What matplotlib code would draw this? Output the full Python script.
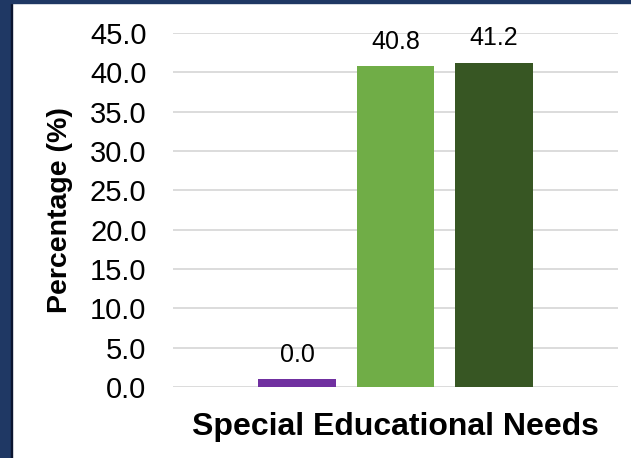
import numpy as np
import matplotlib
matplotlib.use("Agg")
import matplotlib.pyplot as plt
from matplotlib.patches import Rectangle

plt.rcParams['font.family'] = ['Liberation Sans', 'DejaVu Sans']

category = "Special Educational Needs"
values = [0.0, 40.8, 41.2]
colors = ["#7030A0", "#70AD47", "#375623"]
y_ticks = np.arange(0, 45.1, 5)

# zero values still get a thin stub so the bar stays visible
min_visible = 1.0

fig = plt.figure(figsize=(6.31, 4.58), dpi=100)
ax = fig.add_axes([173 / 631, 1 - 387 / 458, 445 / 631, 354 / 458])

x = np.arange(len(values)) - 1
heights = [max(v, min_visible) for v in values]
bars = ax.bar(x, heights, width=0.79, color=colors, zorder=3)

for xi, h, v in zip(x, heights, values):
    ax.annotate(f"{v:.1f}", (xi, h), xytext=(0, 9), textcoords="offset points",
                ha="center", va="bottom", fontsize=18, color="#000000")

ax.set_xlim(-2.26, 2.26)
ax.set_ylim(0, 45)
ax.set_yticks(y_ticks)
ax.set_yticklabels([f"{t:.1f}" for t in y_ticks], fontsize=21)
ax.set_xticks([])
ax.grid(axis="y", color="#D9D9D9", linewidth=1.3, zorder=0)
ax.tick_params(axis="y", length=0, pad=19)
for s in ax.spines.values():
    s.set_visible(False)

ax.set_ylabel("Percentage (%)", fontsize=20.5, fontweight="bold", labelpad=12)
ax.set_xlabel(category, fontsize=23, fontweight="bold", labelpad=18)

# navy frame along the left and top edges
fig.patches.append(Rectangle((0, 0), 11 / 631, 1, transform=fig.transFigure,
                             color="#1F3864", zorder=10))
fig.patches.append(Rectangle((11 / 631, 0), 1.5 / 631, 1, transform=fig.transFigure,
                             color="#0B1530", zorder=10))
fig.patches.append(Rectangle((0, 1 - 3 / 458), 1, 3 / 458, transform=fig.transFigure,
                             color="#1F3864", zorder=10))

fig.savefig("out.png", dpi=100)
